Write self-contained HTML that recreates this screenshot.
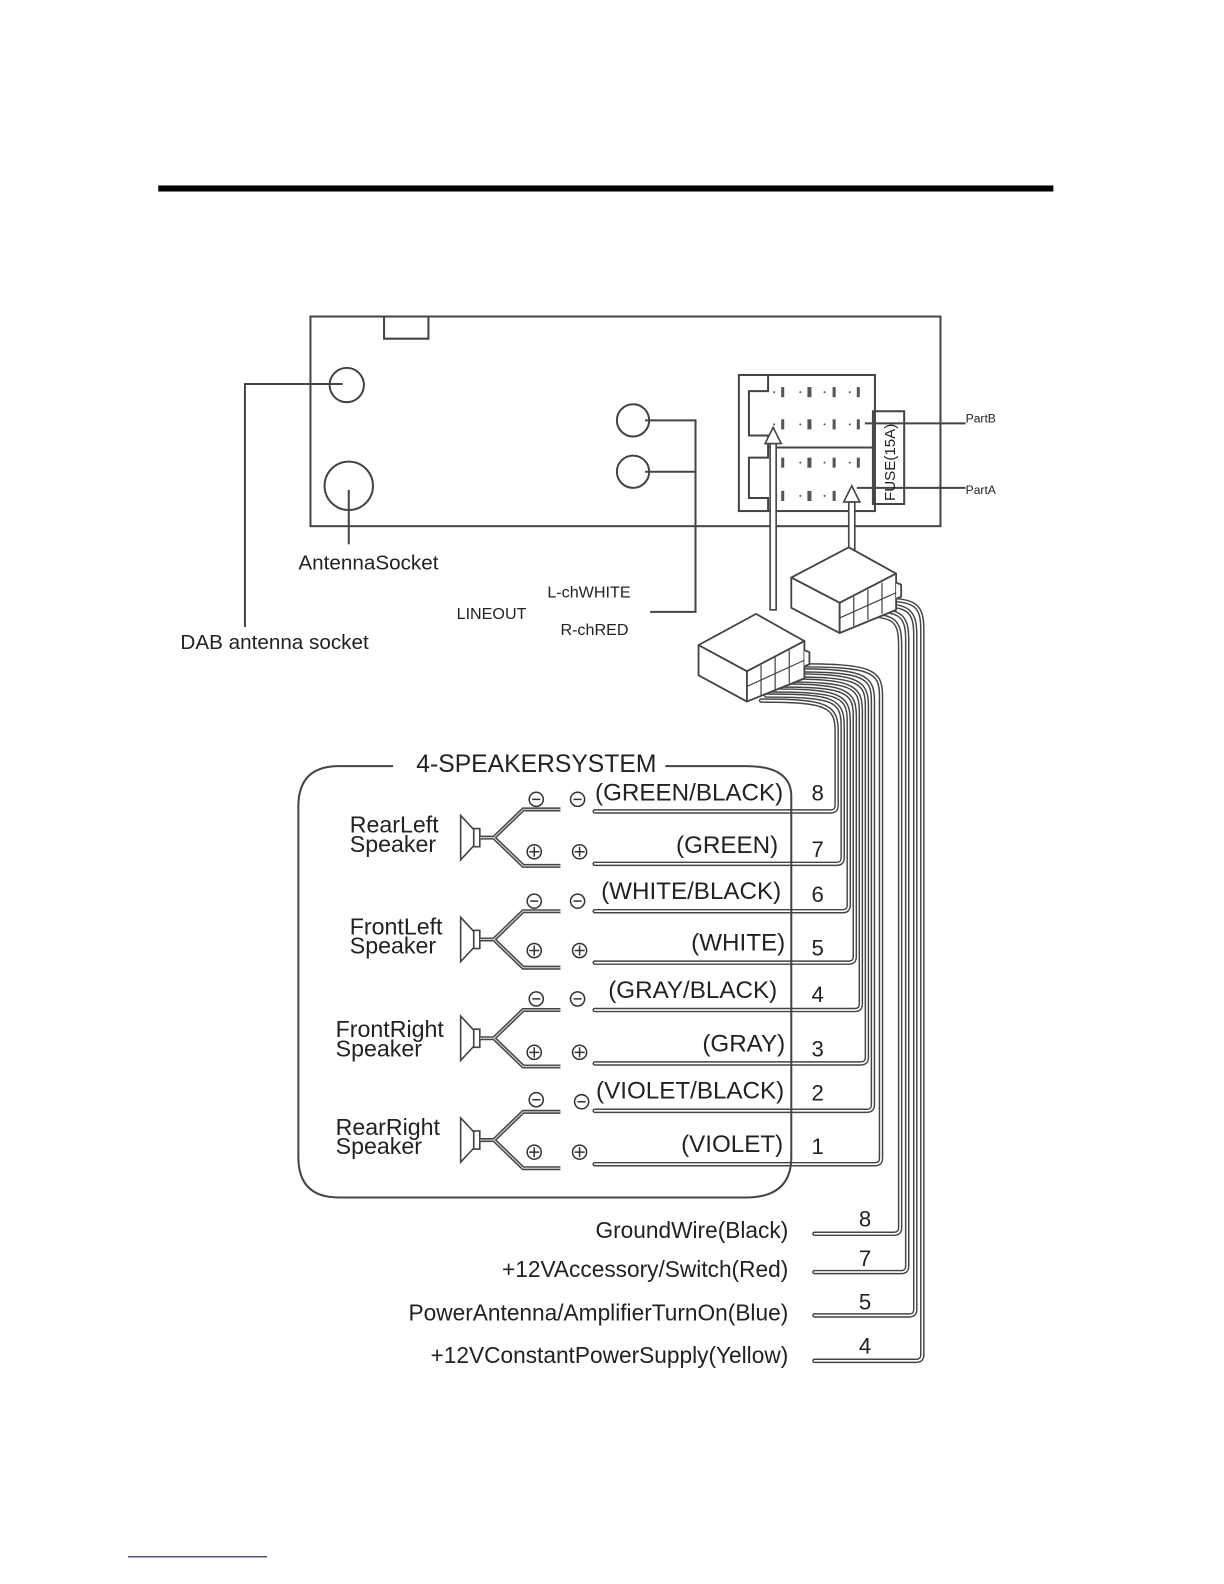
<!DOCTYPE html>
<html><head><meta charset="utf-8"><style>
html,body{margin:0;padding:0;background:#fff;}
svg{display:block;}
text{font-family:"Liberation Sans",Arial,sans-serif;fill:#222;}
</style></head><body>
<svg width="1224" height="1584" viewBox="0 0 1224 1584" xmlns="http://www.w3.org/2000/svg">
<g transform="scale(1.008)">
<rect x="157" y="184" width="888" height="6" fill="#000"/>
<!-- radio body -->
<g fill="none" stroke="#444" stroke-width="2">
<rect x="308" y="314" width="625" height="208"/>
<path d="M381 314 V336 H425 V314"/>
<circle cx="344" cy="382" r="17"/>
<circle cx="346" cy="482" r="24"/>
<circle cx="628" cy="417" r="16"/>
<circle cx="628" cy="468" r="16"/>
<path d="M340 381 H243 V622"/>
<path d="M346 486 V540"/>
<path d="M640 417 H690 V607 H645"/>
<path d="M640 468 H690"/>
<!-- connector block -->
<rect x="733" y="372" width="135" height="135"/>
<rect x="866" y="408" width="31" height="92"/>
<path d="M762 372 V388 H743 V432 H762 V444 H866"/>
<path d="M762 444 V454 H743 V494 H762 V507"/>
<path d="M858 420 H958"/>
<path d="M850 484 H958"/>
</g>
<!-- pins -->
<g fill="#555">
<rect x="775" y="384" width="3" height="10"/><rect x="801" y="384" width="4" height="10"/><rect x="826" y="384" width="3" height="10"/><rect x="850" y="384" width="3" height="10"/>
<rect x="775" y="416" width="3" height="10"/><rect x="801" y="416" width="4" height="10"/><rect x="826" y="416" width="3" height="10"/><rect x="850" y="416" width="3" height="10"/>
<rect x="775" y="454" width="3" height="10"/><rect x="801" y="454" width="4" height="10"/><rect x="826" y="454" width="3" height="10"/><rect x="850" y="454" width="3" height="10"/>
<rect x="775" y="487" width="3" height="10"/><rect x="801" y="487" width="4" height="10"/><rect x="826" y="487" width="3" height="10"/>
<circle cx="768" cy="389" r="1"/><circle cx="794" cy="389" r="1"/><circle cx="818" cy="389" r="1"/><circle cx="843" cy="389" r="1"/>
<circle cx="768" cy="421" r="1"/><circle cx="794" cy="421" r="1"/><circle cx="818" cy="421" r="1"/><circle cx="843" cy="421" r="1"/>
<circle cx="768" cy="459" r="1"/><circle cx="794" cy="459" r="1"/><circle cx="818" cy="459" r="1"/><circle cx="843" cy="459" r="1"/>
<circle cx="768" cy="492" r="1"/><circle cx="794" cy="492" r="1"/><circle cx="818" cy="492" r="1"/>
</g>
<text x="0" y="0" font-size="15" transform="translate(888,497) rotate(-90)">FUSE(15A)</text>
<text x="958" y="419" font-size="12">PartB</text>
<text x="958" y="490" font-size="12">PartA</text>
<!-- arrows -->
<g fill="#fff" stroke="#444" stroke-width="1.6">
<path d="M764 605 V440 H770 V605 Z"/>
<path d="M767 424 L759 440 H775 Z"/>
<path d="M842 545 V498 H848 V545 Z"/>
<path d="M845 482 L837 498 H853 Z"/>
</g>
<!-- power wires -->
<g fill="none" stroke-linecap="round">
<g stroke="#444" stroke-width="4.5">
<path d="M845 610 C885 610 893 612 893 640 V1218 Q893 1224 887 1224 H808"/>
<path d="M855 605 C892 605 900 608 900 635 V1256 Q900 1262 894 1262 H808"/>
<path d="M865 600 C900 600 908 604 908 630 V1299 Q908 1305 902 1305 H808"/>
<path d="M875 595 C908 595 915 600 915 625 V1344 Q915 1350 909 1350 H808"/>
</g>
<g stroke="#fff" stroke-width="1.6">
<path d="M845 610 C885 610 893 612 893 640 V1218 Q893 1224 887 1224 H808"/>
<path d="M855 605 C892 605 900 608 900 635 V1256 Q900 1262 894 1262 H808"/>
<path d="M865 600 C900 600 908 604 908 630 V1299 Q908 1305 902 1305 H808"/>
<path d="M875 595 C908 595 915 600 915 625 V1344 Q915 1350 909 1350 H808"/>
</g>
</g>
<!-- upper connector box -->
<g stroke="#444" stroke-width="1.8" fill="#fff" stroke-linejoin="round">
<path d="M785 573 L842 543 L889 569 L833 598 Z"/>
<path d="M785 573 L833 598 V628 L785 603 Z"/>
<path d="M833 598 L889 569 V605 L833 628 Z"/>
<path d="M889 578 L894 580 V592 L889 594"/>
</g>
<g stroke="#444" stroke-width="1.2" fill="none">
<path d="M847 592 V621 M861 585 V615 M875 578 V609 M833 613 L889 588"/>
</g>
<!-- speaker wires -->
<g fill="none" stroke-linecap="round">
<g stroke="#444" stroke-width="4.5">
<path d="M755 695 C820 695 830 700 830 725 V799 Q830 805 824 805 H590"/>
<path d="M760 690 C826 690 836 694 836 720 V851 Q836 857 830 857 H590"/>
<path d="M765 685 C832 685 842 690 842 715 V898 Q842 904 836 904 H590"/>
<path d="M770 680 C838 680 848 685 848 710 V949 Q848 955 842 955 H590"/>
<path d="M775 675 C844 675 854 680 854 705 V996 Q854 1002 848 1002 H590"/>
<path d="M780 670 C850 670 860 675 860 700 V1049 Q860 1055 854 1055 H590"/>
<path d="M785 665 C856 665 866 670 866 695 V1096 Q866 1102 860 1102 H590"/>
<path d="M790 660 C864 660 874 665 874 690 V1149 Q874 1155 868 1155 H590"/>
</g>
<g stroke="#fff" stroke-width="1.6">
<path d="M755 695 C820 695 830 700 830 725 V799 Q830 805 824 805 H590"/>
<path d="M760 690 C826 690 836 694 836 720 V851 Q836 857 830 857 H590"/>
<path d="M765 685 C832 685 842 690 842 715 V898 Q842 904 836 904 H590"/>
<path d="M770 680 C838 680 848 685 848 710 V949 Q848 955 842 955 H590"/>
<path d="M775 675 C844 675 854 680 854 705 V996 Q854 1002 848 1002 H590"/>
<path d="M780 670 C850 670 860 675 860 700 V1049 Q860 1055 854 1055 H590"/>
<path d="M785 665 C856 665 866 670 866 695 V1096 Q866 1102 860 1102 H590"/>
<path d="M790 660 C864 660 874 665 874 690 V1149 Q874 1155 868 1155 H590"/>
</g>
</g>
<!-- lower connector box -->
<g stroke="#444" stroke-width="1.8" fill="#fff" stroke-linejoin="round">
<path d="M693 640 L750 609 L798 636 L741 666 Z"/>
<path d="M693 640 L741 666 V696 L693 670 Z"/>
<path d="M741 666 L798 636 V673 L741 696 Z"/>
<path d="M798 645 L803 647 V659 L798 661"/>
</g>
<g stroke="#444" stroke-width="1.2" fill="none">
<path d="M755 660 V690 M769 652 V684 M783 645 V678 M741 681 L798 655"/>
</g>
<!-- speaker system box -->
<path d="M390 760 H336 Q296 760 296 800 V1148 Q296 1188 336 1188 H740 Q785 1188 785 1148 V790 M660 760 H740 Q785 760 785 790" fill="none" stroke="#444" stroke-width="2"/>
<text x="413" y="766" font-size="24.5">4-SPEAKERSYSTEM</text>
<!-- speakers -->
<g id="spk">
<g fill="#fff" stroke="#444" stroke-width="1.6">
<path d="M457 809 L470 823 V839 L457 853 Z"/>
<rect x="470" y="822" width="6" height="18"/>
</g>
<path d="M476 831 H490 L519 803 H556 M490 831 L519 859 H556" fill="none" stroke="#444" stroke-width="4"/>
<path d="M476 831 H490 L519 803 H556 M490 831 L519 859 H556" fill="none" stroke="#ccc" stroke-width="1.2"/>
</g>
<use href="#spk" y="101"/>
<use href="#spk" y="199"/>
<use href="#spk" y="300"/>
<!-- polarity symbols -->
<g fill="none" stroke="#333" stroke-width="1.5">
<circle cx="532" cy="793" r="7"/><circle cx="573" cy="793" r="7"/>
<circle cx="530" cy="845" r="7"/><circle cx="575" cy="845" r="7"/>
<circle cx="530" cy="894" r="7"/><circle cx="573" cy="894" r="7"/>
<circle cx="530" cy="943" r="7"/><circle cx="575" cy="943" r="7"/>
<circle cx="532" cy="991" r="7"/><circle cx="573" cy="991" r="7"/>
<circle cx="530" cy="1044" r="7"/><circle cx="575" cy="1044" r="7"/>
<circle cx="532" cy="1091" r="7"/><circle cx="577" cy="1093" r="7"/>
<circle cx="530" cy="1143" r="7"/><circle cx="575" cy="1143" r="7"/>
<path d="M528 793 h8 M569 793 h8 M526 894 h8 M569 894 h8 M528 991 h8 M569 991 h8 M528 1091 h8 M573 1093 h8"/>
<path d="M525 845 h10 M530 840 v10 M570 845 h10 M575 840 v10 M525 943 h10 M530 938 v10 M570 943 h10 M575 938 v10 M525 1044 h10 M530 1039 v10 M570 1044 h10 M575 1039 v10 M525 1143 h10 M530 1138 v10 M570 1143 h10 M575 1138 v10"/>
</g>
<!-- speaker labels -->
<g font-size="23">
<text x="347" y="826">RearLeft</text><text x="347" y="845">Speaker</text>
<text x="347" y="927">FrontLeft</text><text x="347" y="946">Speaker</text>
<text x="333" y="1029">FrontRight</text><text x="333" y="1048">Speaker</text>
<text x="333" y="1126">RearRight</text><text x="333" y="1145">Speaker</text>
</g>
<g font-size="24" text-anchor="end">
<text x="777" y="794">(GREEN/BLACK)</text>
<text x="772" y="846">(GREEN)</text>
<text x="775" y="892">(WHITE/BLACK)</text>
<text x="779" y="943">(WHITE)</text>
<text x="771" y="990">(GRAY/BLACK)</text>
<text x="779" y="1043">(GRAY)</text>
<text x="778" y="1090">(VIOLET/BLACK)</text>
<text x="777" y="1143">(VIOLET)</text>
</g>
<g font-size="22">
<text x="805" y="794">8</text><text x="805" y="850">7</text>
<text x="805" y="895">6</text><text x="805" y="948">5</text>
<text x="805" y="994">4</text><text x="805" y="1048">3</text>
<text x="805" y="1092">2</text><text x="805" y="1145">1</text>
<text x="852" y="1217">8</text><text x="852" y="1256">7</text>
<text x="852" y="1299">5</text><text x="852" y="1343">4</text>
</g>
<g font-size="22.5" text-anchor="end">
<text x="782" y="1228">GroundWire(Black)</text>
<text x="782" y="1267">+12VAccessory/Switch(Red)</text>
<text x="782" y="1310">PowerAntenna/AmplifierTurnOn(Blue)</text>
<text x="782" y="1352">+12VConstantPowerSupply(Yellow)</text>
</g>
<text x="296" y="565" font-size="20.5">AntennaSocket</text>
<text x="179" y="644" font-size="20.5">DAB antenna socket</text>
<text x="543" y="593" font-size="16">L-chWHITE</text>
<text x="453" y="614" font-size="16">LINEOUT</text>
<text x="556" y="630" font-size="16">R-chRED</text>
</g>
<rect x="128" y="1556" width="139" height="1.5" fill="#557"/>
</svg>
</body></html>
